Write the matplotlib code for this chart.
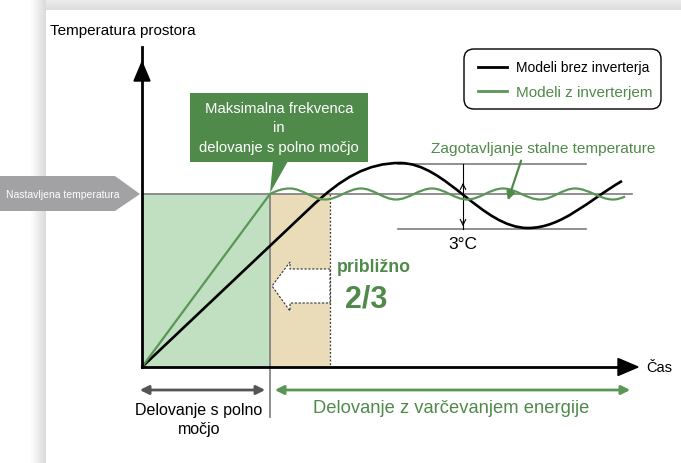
import matplotlib
matplotlib.use("Agg")
import matplotlib.pyplot as plt
import numpy as np
from matplotlib.path import Path
from matplotlib.patches import PathPatch, Rectangle, Polygon, FancyBboxPatch, FancyArrowPatch

# canvas in pixels (y grows downward)
W, H = 681, 464

# axes of the diagram
origin_x, origin_y = 142, 368
y_axis_top = 48
x_axis_end = 638
set_temp_y = 195
full_power_end_x = 270
saving_edge_x = 330

# black curve (models without inverter): points and slopes
black_x = [142, 310, 400, 528, 622]
black_y = [368, 209, 164, 229, 182]
black_slope = [-0.946, -0.946, 0.0, 0.0, -0.58]

# green curve (inverter models): straight rise then small wave around set temperature
green_rise_x = [142, 270]
green_rise_y = [368, 195]
wave_x = [270, 290, 325, 361, 396, 432, 467, 503, 540, 575, 613, 625]
wave_y = [195, 189.5, 200.5, 189.5, 200.5, 189.5, 200.5, 189.5, 200.5, 189.5, 200.5, 197.5]
wave_slope = [-0.5, 0, 0, 0, 0, 0, 0, 0, 0, 0, 0, -0.43]

# +/- 1.5 degC band
band_x = [398, 586]
band_top, band_bottom = 165, 230
band_arrow_x = 463

# labels
y_label = "Temperatura prostora"
x_label = "Čas"
set_temp_label = "Nastavljena temperatura"
box_lines = ["Maksimalna frekvenca", "in", "delovanje s polno močjo"]
legend_labels = ["Modeli brez inverterja", "Modeli z inverterjem"]
steady_label = "Zagotavljanje stalne temperature"
band_label = "3°C"
approx_label = "približno"
ratio_label = "2/3"
full_label = "Delovanje s polno\nmočjo"
saving_label = "Delovanje z varčevanjem energije"

GREEN = "#4f8a4b"
LINE_GREEN = "#5a9656"
LIGHT_GREEN = "#c1dfc1"
TAN = "#ebdcb9"
GRAY = "#7d7d7d"
TAG_GRAY = "#a2a2a5"
FONT = ["Liberation Sans", "DejaVu Sans"]
plt.rcParams["font.family"] = FONT


def smooth_curve(xs, ys, slopes, k=0.36):
    verts = [(xs[0], ys[0])]
    codes = [Path.MOVETO]
    for i in range(len(xs) - 1):
        d = xs[i + 1] - xs[i]
        verts += [(xs[i] + k * d, ys[i] + k * d * slopes[i]),
                  (xs[i + 1] - k * d, ys[i + 1] - k * d * slopes[i + 1]),
                  (xs[i + 1], ys[i + 1])]
        codes += [Path.CURVE4] * 3
    return Path(verts, codes)


fig = plt.figure(figsize=(W / 100, H / 100), dpi=100)
ax = fig.add_axes([0, 0, 1, 1])

# page shadow
top = np.linspace(0.93, 0.87, 12)[:, None, None] * np.ones((12, 2, 3))
ax.imshow(top, extent=[30, W, 11, 0], aspect="auto", zorder=0)
left = np.linspace(1.0, 0.86, 16)[None, :, None] * np.ones((2, 16, 3))
ax.imshow(left, extent=[30, 46, H, 0], aspect="auto", zorder=0)

# shaded areas
ax.add_patch(Rectangle((origin_x, set_temp_y), full_power_end_x - origin_x,
                       origin_y - set_temp_y, color=LIGHT_GREEN, lw=0, zorder=1))
ax.add_patch(Rectangle((full_power_end_x, set_temp_y), saving_edge_x - full_power_end_x,
                       origin_y - set_temp_y, color=TAN, lw=0, zorder=1))
ax.plot([saving_edge_x, saving_edge_x], [set_temp_y, origin_y], color="#333333",
        lw=0.9, ls=(0, (1.5, 1.5)), zorder=2)

# white dashed arrow pointing left
ax.add_patch(Polygon([(330, 270), (290, 270), (290, 263), (272, 287), (290, 312),
                      (290, 304), (330, 304)], closed=True, facecolor="white",
                     edgecolor="#333333", lw=0.8, ls=(0, (2, 1.5)), zorder=3))

# reference lines
ax.plot([origin_x, 632], [set_temp_y, set_temp_y], color=GRAY, lw=1.2, zorder=2)
ax.plot([full_power_end_x, full_power_end_x], [set_temp_y, 418], color=GRAY, lw=1.2, zorder=2)
for yb in (band_top, band_bottom):
    ax.plot(band_x, [yb, yb], color=GRAY, lw=1.2, zorder=2)

# curves
ax.add_patch(PathPatch(smooth_curve(black_x, black_y, black_slope), fill=False,
                       edgecolor="black", lw=1.9, zorder=5))
ax.plot(green_rise_x, green_rise_y, color=LINE_GREEN, lw=1.6, zorder=6)
ax.add_patch(PathPatch(smooth_curve(wave_x, wave_y, wave_slope), fill=False,
                       edgecolor=LINE_GREEN, lw=1.6, zorder=6))

# band arrow
ax.plot([band_arrow_x, band_arrow_x], [band_top, band_bottom], color="black", lw=0.8, zorder=4)
ax.annotate("", xy=(band_arrow_x, 181), xytext=(band_arrow_x, 190),
            arrowprops=dict(arrowstyle="->", lw=0.8, color="black"), zorder=4)
ax.annotate("", xy=(band_arrow_x, 230), xytext=(band_arrow_x, 220),
            arrowprops=dict(arrowstyle="->", lw=0.8, color="black"), zorder=4)
ax.text(band_arrow_x, 245, band_label, ha="center", va="center", fontsize=12.5)

# axes
ax.plot([origin_x, origin_x], [origin_y, y_axis_top], color="black", lw=2, zorder=7)
ax.add_patch(Polygon([(134, 82), (150, 82), (142, 63)], color="black", zorder=7))
ax.plot([origin_x, 620], [origin_y, origin_y], color="black", lw=2, zorder=7)
ax.add_patch(Polygon([(618, 359.5), (618, 376.5), (x_axis_end, 368)], color="black", zorder=7))
ax.text(50, 31, y_label, ha="left", va="center", fontsize=11)
ax.text(646, 368, x_label, ha="left", va="center", fontsize=10.5)

# set temperature tag
ax.add_patch(Polygon([(0, 177), (115, 177), (140, 195), (115, 212), (0, 212)],
                     closed=True, color=TAG_GRAY, lw=0, zorder=3))
ax.text(63, 195, set_temp_label, ha="center", va="center", color="white",
        fontsize=7.5, zorder=4)

# green callout box
ax.add_patch(Rectangle((190, 94), 178, 69, color=GREEN, lw=0, zorder=3))
ax.add_patch(Polygon([(273, 162), (288, 162), (270, 194)], color=GREEN, lw=0, zorder=3))
for yy, line in zip([109, 128, 148], box_lines):
    ax.text(279, yy, line, ha="center", va="center", color="white", fontsize=10.7, zorder=4)

# legend
ax.add_patch(FancyBboxPatch((464, 50), 197, 60, boxstyle="round,pad=0,rounding_size=10",
                            facecolor="white", edgecolor="black", lw=1, zorder=3))
ax.plot([478, 507], [68, 68], color="black", lw=2, zorder=4)
ax.plot([478, 507], [92, 92], color=LINE_GREEN, lw=2, zorder=4)
ax.text(516, 68, legend_labels[0], ha="left", va="center", fontsize=10, zorder=4)
ax.text(516, 93, legend_labels[1], ha="left", va="center", fontsize=11, color=GREEN, zorder=4)

# steady temperature callout
ax.text(431, 149, steady_label, ha="left", va="center", fontsize=11.1, color=GREEN)
ax.annotate("", xy=(507, 204), xytext=(522, 159),
            arrowprops=dict(arrowstyle="-|>", lw=1.6, color=GREEN, mutation_scale=12), zorder=6)

# saving ratio
ax.text(337, 268, approx_label, ha="left", va="center", fontsize=12.8, color=GREEN, weight="bold")
ax.text(366, 300, ratio_label, ha="center", va="center", fontsize=22, color=GREEN, weight="bold")

# operation ranges
ax.add_patch(FancyArrowPatch((137, 391), (268, 391), arrowstyle="<|-|>", mutation_scale=13,
                             color="#555555", lw=2, zorder=4))
ax.add_patch(FancyArrowPatch((272, 391), (633, 391), arrowstyle="<|-|>", mutation_scale=13,
                             color=LINE_GREEN, lw=2, zorder=4))
ax.text(199, 420, full_label, ha="center", va="center", fontsize=11.5, linespacing=1.35)
ax.text(451, 409, saving_label, ha="center", va="center", fontsize=13.2, color=GREEN)

ax.set_xlim(0, W)
ax.set_ylim(H, 0)
ax.axis("off")
fig.savefig("out.png", dpi=100)
